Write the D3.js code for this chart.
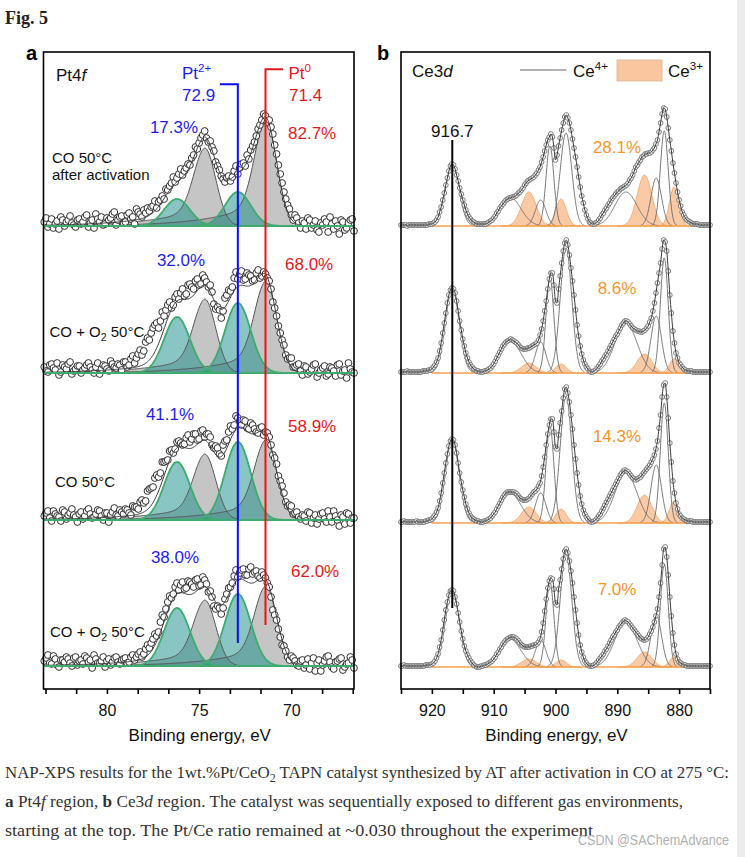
<!DOCTYPE html>
<html><head><meta charset="utf-8">
<script src="https://cdn.jsdelivr.net/npm/d3@7/dist/d3.min.js"></script>
<style>html,body{margin:0;padding:0;background:#fff;}svg{display:block;}</style>
</head><body>
<svg id="fig" width="745" height="857"></svg>
<script>
// ================= DATA =================
// Pt4f panel (a): spectra listed top to bottom. Two interleaved scans per spectrum.
const ptEnergyStart = 83.4;       // eV, first point of scan A
const ptEnergyStartB = 83.3;      // eV, first point of scan B
const ptEnergyStep = 0.2;         // eV between points of one scan
const ptConditions = ["CO 50°C|after activation", "CO + O_2 50°C", "CO 50°C", "CO + O_2 50°C"];
const ptOffsets = [463, 316, 169, 23];           // vertical offsets of stacked spectra (a.u.)
const ptCounts1 = [4,-1,7,2,-3,6,4,10,1,6, 2,9,-1,6,12,4,1,8,8,14, 6,10,4,13,9,17,12,16,18,19, 25,24,30,37,40,49,48,57,55,62, 68,79,83,91,88,85,75,60,50,44, 50,49,60,58,63,71,76,84,97,106, 110,106,92,72,52,34,21,11,11,3, 5,-3,6,1,-4,3,7,-6,2,5, -8,4,-2,6,-5];
const ptCounts2 = [6,1,9,3,-2,8,4,11,2,7, 0,5,10,3,6,-1,8,4,12,6, 9,3,11,8,17,15,23,22,35,40, 48,45,61,63,71,68,79,80,77,88, 86,92,88,98,91,88,69,66,55,75, 83,86,101,99,93,100,97,93,103,97, 99,92,71,57,40,28,14,15,6,9, -2,6,1,8,-4,3,7,-1,5,-3, 9,2,-5,4,0];
const ptCounts3 = [4,9,-1,6,3,10,1,7,5,-2, 8,4,11,2,6,9,0,7,5,12, 4,8,11,7,14,13,18,17,29,32, 42,43,58,59,69,67,78,77,76,85, 81,86,81,90,86,83,72,72,64,79, 88,91,104,99,100,92,97,91,87,93, 88,83,65,56,39,27,14,14,7,3, 5,-1,7,2,-4,6,1,9,-2,4, -6,3,7,-3,2];
const ptCounts4 = [5,11,2,7,-1,6,9,3,8,1, 6,10,4,-2,7,3,9,5,1,8, 4,6,8,4,11,9,14,12,21,23, 32,34,51,57,70,72,83,81,77,85, 82,86,80,89,82,75,60,60,52,67, 78,83,96,93,97,91,99,94,90,94, 88,79,56,46,29,20,9,10,5,0, 6,1,-3,8,3,-5,5,10,-1,4, 7,-4,2,9,-2];
const ptCounts1B = [8,2,-2,5,9,0,6,3,-1,7, 4,11,3,-2,7,9,2,6,12,1, 9,3,11,7,2,14,9,13,15,20, 18,26,27,36,43,44,52,51,58,61, 71,77,88,95,84,79,64,56,47,48, 45,55,52,62,60,67,80,90,101,112, 104,99,81,61,43,27,17,6,8,-2, 3,8,-2,5,-6,1,4,9,-3,0, 6,-4,3,7];
const ptCounts2B = [2,8,5,10,1,6,9,-1,4,7, 3,8,6,0,10,4,7,2,9,5, 8,11,6,14,10,19,18,31,33,45, 50,52,57,68,65,76,74,84,79,89, 84,94,89,95,86,81,64,63,62,78, 82,95,94,102,94,98,92,100,95,101, 95,84,65,47,33,18,15,6,8,2, 7,-1,4,9,0,5,-3,6,2,8, -2,3,10,1];
const ptCounts3B = [7,2,9,4,-1,8,5,11,3,6, 1,9,6,3,10,4,7,-2,8,5, 10,6,10,5,13,11,20,19,31,33, 45,47,58,60,70,71,79,75,82,78, 86,80,89,83,86,75,74,66,75,80, 94,95,102,95,99,91,95,88,92,85, 87,75,62,44,34,18,15,6,8,1, 4,8,-3,5,1,7,-2,3,9,0, 5,-4,6,2];
const ptCounts4B = [8,3,10,1,6,4,7,0,9,5, 2,8,6,11,3,5,-1,7,4,9, 2,7,3,9,6,12,9,17,18,27, 30,44,49,64,68,79,76,84,78,84, 79,87,81,86,74,69,57,58,58,72, 79,90,89,96,91,97,92,95,88,91, 83,69,51,37,21,15,6,8,1,5, -2,7,3,-5,6,1,9,4,-3,5, 8,-1,3,6];
const ptCounts = [ptCounts1, ptCounts2, ptCounts3, ptCounts4];
const ptCountsB = [ptCounts1B, ptCounts2B, ptCounts3B, ptCounts4B];
// fitted components: Pt0 4f7/2, Pt0 4f5/2, Pt2+ 4f7/2, Pt2+ 4f5/2
const ptPeakCenters = [71.4, 74.7, 72.9, 76.2];
const ptPeakKinds = ["Pt0", "Pt0", "Pt2+", "Pt2+"];
const ptPeakHeights = [[106,78,34,27],[92,74,70,56],[80,66,78,58],[80,66,72,58]];
const ptPt2Share = ["17.3%", "32.0%", "41.1%", "38.0%"];
const ptPt0Share = ["82.7%", "68.0%", "58.9%", "62.0%"];
const ptMarkerEnergies = [72.9, 71.4];
const ptTicks = [83.33, 81.67, 80, 78.33, 76.67, 75, 73.33, 71.67, 70, 68.33, 66.67];
const ptTickLabels = [80, 75, 70];

// Ce3d panel (b): two interleaved scans per spectrum
const ceEnergyStart = 925;
const ceEnergyStartB = 924.75;
const ceEnergyStep = 0.5;
const ceOffsets = [463, 316, 166, 22];
const ceCounts1 = [1,1,0,1,1,1,1,1,1,2, 2,4,9,19,33,48,60,61,51,38, 26,16,9,5,3,2,2,2,3,5, 8,13,18,22,26,28,29,30,33,36, 41,45,47,49,53,59,69,81,89,89, 66,80,96,109,108,96,78,59,39,23, 11,4,2,3,6,11,16,21,26,30, 34,37,39,41,46,51,59,64,69,72, 73,74,78,86,103,118,109,86,63,43, 26,14,8,5,3,2,2,1,1,1, 1];
const ceCounts2 = [1,1,2,1,1,1,1,2,2,3, 4,8,15,30,50,70,83,84,72,52, 34,20,11,6,3,2,1,2,3,5, 9,15,21,27,31,33,33,31,28,25, 24,25,26,28,30,38,52,72,94,100, 72,84,110,130,128,105,78,48,27,13, 6,2,1,3,7,12,17,22,28,34, 39,45,50,52,49,45,43,42,41,43, 47,55,70,90,110,133,122,78,42,20, 10,6,3,2,2,1,1,1,1,1, 1];
const ceCounts3 = [1,2,1,1,1,2,1,1,2,3, 4,8,15,30,50,69,82,83,70,50, 33,19,10,5,3,2,1,2,3,5, 9,14,20,26,30,31,31,30,27,24, 23,24,27,31,34,40,56,78,98,104, 76,88,112,134,130,108,78,50,27,13, 6,2,1,3,7,12,18,24,30,36, 42,48,52,52,49,45,43,45,48,52, 56,61,68,82,108,138,126,80,42,20, 9,5,3,2,2,1,1,1,1,1, 1];
const ceCounts4 = [1,2,1,1,1,1,1,1,2,2, 3,6,13,27,47,65,76,76,63,45, 28,16,9,4,1,0,1,2,3,5, 8,13,18,23,27,29,30,29,26,22, 20,20,21,22,23,28,44,68,86,88, 64,78,98,116,114,96,70,44,22,10, 4,1,1,3,7,11,16,21,27,32, 37,42,46,46,43,39,35,31,28,27, 30,36,45,58,84,118,110,70,34,13, 5,3,2,1,1,1,1,1,1,1, 1];
const ceCounts1B = [1,1,1,1,1,1,1,1,1,2, 3,6,14,26,41,55,62,57,45,32, 21,12,7,4,2,2,2,2,4,6, 10,15,20,24,27,28,29,31,34,38, 43,46,48,51,56,64,75,86,92,78, 71,88,103,111,103,87,69,49,30,16, 7,3,2,4,8,13,18,23,28,32, 35,38,40,43,48,55,61,66,70,72, 73,76,82,94,112,117,98,75,53,34, 20,11,6,4,2,2,1,1,1,1];
const ceCounts2B = [1,1,1,1,1,1,1,2,2,3, 6,11,22,40,60,78,85,80,62,43, 27,15,8,4,2,1,1,2,4,7, 12,18,24,29,32,34,32,30,26,24, 24,25,27,29,33,44,62,84,100,88, 70,97,122,133,118,92,63,37,19,9, 4,1,2,5,9,14,19,25,31,37, 42,48,52,51,47,44,42,41,42,45, 51,62,80,100,124,131,102,60,30,15, 8,4,2,2,1,1,1,1,1,1];
const ceCounts3B = [1,1,1,1,1,1,1,1,2,3, 6,11,22,40,60,77,84,78,60,41, 26,14,7,4,2,1,1,2,4,7, 11,17,23,28,31,31,31,29,25,23, 23,25,29,32,37,47,66,89,104,91, 74,100,125,136,121,94,64,38,19,9, 4,1,2,5,9,15,21,27,33,39, 45,50,53,51,47,44,44,46,50,54, 58,64,74,95,126,140,105,61,30,14, 7,4,2,2,1,1,1,1,1,1];
const ceCounts4B = [1,1,1,1,1,1,1,1,2,2, 4,9,20,37,57,72,77,70,54,36, 21,12,6,2,0,0,1,2,4,6, 10,15,20,25,28,30,30,28,24,21, 20,20,21,22,25,35,56,79,89,78, 62,87,108,118,106,84,57,32,15,6, 2,1,2,5,9,13,18,24,30,35, 40,44,47,45,41,37,33,29,27,28, 33,40,51,70,102,120,92,51,22,8, 4,2,1,1,1,1,1,1,1,1];
const ceCounts = [ceCounts1, ceCounts2, ceCounts3, ceCounts4];
const ceCountsB = [ceCounts1B, ceCounts2B, ceCounts3B, ceCounts4B];
const cePeakCenters = [916.7, 907.4, 902.4, 900.9, 898.3, 888.6, 883.7, 882.4, 904.3, 899.1, 885.6, 880.8];
const cePeakFwhm    = [2.6, 4.2, 2.0, 1.5, 2.2, 4.2, 2.0, 1.5, 2.8, 2.0, 2.8, 1.8];
const cePeakStates  = ["Ce4+","Ce4+","Ce4+","Ce4+","Ce4+","Ce4+","Ce4+","Ce4+","Ce3+","Ce3+","Ce3+","Ce3+"];
const cePeakHeights = [
  [60,29,26,80,93,34,48,95, 34,27,51,39],
  [84,33,31,95,125,50,57,115, 10,9,19,14],
  [83,30,30,97,127,50,58,120, 16,14,28,22],
  [77,28,27,85,113,45,52,103, 8,7,15,10]];
const ceCe3Share = ["28.1%", "8.6%", "14.3%", "7.0%"];
const ceMarkerEnergy = 916.7;
const ceTicks = [925,920,915,910,905,900,895,890,885,880,875];
const ceTickLabels = [920,910,900,890,880];

// ================= LAYOUT / STYLE =================
const SANS = "Arial, 'Liberation Sans', Helvetica, sans-serif";
const SERIF = "'Liberation Serif', 'Times New Roman', serif";
const BLUE = "#1e1ee6", RED = "#e41a1c", GREEN = "#3fab6f", ORANGE = "#f4952a";
const frameA = {x0:43.5, x1:354, y0:52, y1:689};
const frameB = {x0:401, x1:710, y0:52, y1:689};
const ptLabelLayout = [
  {blueX:174, blueDy:-93, redX:288, redDy:-87, condX:52, condDy:-63},
  {blueX:181, blueDy:-107, redX:285, redDy:-103, condX:49.5, condDy:-36},
  {blueX:170, blueDy:-100, redX:288, redDy:-88, condX:55, condDy:-33},
  {blueX:175, blueDy:-103, redX:291, redDy:-89, condX:50, condDy:-29}];
const ceLabelDy = [-73, -79, -81, -72];

const svg = d3.select("#fig");
svg.append("rect").attr("x",737).attr("y",0).attr("width",8).attr("height",857).attr("fill","#ececec");

svg.append("text").attr("x",5).attr("y",24).attr("font-family",SERIF)
  .attr("font-weight","bold").attr("font-size",18).attr("fill","#222").text("Fig. 5");

const yI = d3.scaleLinear().domain([0, 637]).range([frameA.y1, frameA.y0]);

function richText(g, x, y, str, size, color, anchor){
  const t = g.append("text").attr("x",x).attr("y",y).attr("font-family",SANS)
    .attr("font-size",size).attr("fill",color).attr("text-anchor",anchor||"start");
  const parts = str.split("_");
  t.append("tspan").text(parts[0]);
  if (parts.length > 1){
    t.append("tspan").attr("font-size", size*0.7).attr("dy", size*0.28).text(parts[1][0]);
    t.append("tspan").attr("dy", -size*0.28).text(parts[1].slice(1));
  }
  return t;
}
function supLabel(g, x, y, main, sup, size, color){
  const t = g.append("text").attr("x",x).attr("y",y).attr("font-family",SANS)
    .attr("font-size",size).attr("fill",color);
  t.append("tspan").text(main);
  t.append("tspan").attr("font-size", size*0.68).attr("dy", -size*0.42).text(sup);
  return t;
}
function scanPoints(a, startA, b, startB, step){
  const pts = a.map((v,i) => ({e: startA - i*step, v}))
    .concat(b.map((v,i) => ({e: startB - i*step, v})));
  return pts.sort((p,q) => q.e - p.e);
}

// ================= PANEL A =================
const xPt = d3.scaleLinear().domain([83.44, 66.6]).range([frameA.x0, frameA.x1]);
const gA = svg.append("g");
const fineA = d3.range(83.44, 66.58, -0.04);
function ptShape(E, c, h, kind){
  const d = E - c;
  if (kind === "Pt0"){
    const g = Math.exp(-d*d/0.72);
    return d > 0 ? h*(0.75*g + 0.25*Math.exp(-d/2.5)) : h*g;
  }
  return h*Math.exp(-d*d/0.98);
}
const greyFill = "rgba(140,140,140,0.5)";
const tealFill = "rgba(20,140,135,0.5)";

ptOffsets.forEach((base, s) => {
  const comps = ptPeakCenters.map((c,k) => ({c, h: ptPeakHeights[s][k], kind: ptPeakKinds[k]}));
  const gs = gA.append("g");
  const sorted = comps.filter(c=>c.kind==="Pt0").concat(comps.filter(c=>c.kind!=="Pt0"));
  sorted.forEach(cp => {
    const area = d3.area().x(e => xPt(e)).y0(yI(base)).y1(e => yI(base + ptShape(e, cp.c, cp.h, cp.kind)));
    gs.append("path").attr("d", area(fineA)).attr("fill", cp.kind==="Pt0" ? greyFill : tealFill);
  });
  sorted.forEach(cp => {
    const line = d3.line().x(e => xPt(e)).y(e => yI(base + ptShape(e, cp.c, cp.h, cp.kind)));
    gs.append("path").attr("d", line(fineA)).attr("fill","none")
      .attr("stroke", cp.kind==="Pt0" ? "#555" : GREEN)
      .attr("stroke-width", cp.kind==="Pt0" ? 1 : 1.8);
  });
  const pts = scanPoints(ptCounts[s], ptEnergyStart, ptCountsB[s], ptEnergyStartB, ptEnergyStep);
  gs.append("g").selectAll("circle").data(pts).join("circle")
    .attr("cx", p => xPt(p.e)).attr("cy", p => yI(base + p.v)).attr("r", 3.4)
    .attr("fill","#fff").attr("stroke","#1a1a1a").attr("stroke-width",0.9);
  const env = d3.line().x(e => xPt(e)).y(e => yI(base + d3.sum(comps, cp => ptShape(e, cp.c, cp.h, cp.kind))));
  gs.append("path").attr("d", env(fineA)).attr("fill","none").attr("stroke","#3a3a3a").attr("stroke-width",1);
  gs.append("line").attr("x1",frameA.x0).attr("x2",frameA.x1).attr("y1",yI(base)).attr("y2",yI(base))
    .attr("stroke",GREEN).attr("stroke-width",2.2);
});

{
  const xb = xPt(ptMarkerEnergies[0]), xr = xPt(ptMarkerEnergies[1]);
  gA.append("path").attr("d", `M${xb-18},84.3H${xb}V643`).attr("fill","none").attr("stroke","#0b0bf5").attr("stroke-width",2);
  gA.append("path").attr("d", `M${xr+17.5},69.3H${xr}V625`).attr("fill","none").attr("stroke","#e3161b").attr("stroke-width",2);
  supLabel(gA, 182, 79, "Pt", "2+", 17, BLUE);
  gA.append("text").attr("x",182).attr("y",101).attr("font-family",SANS).attr("font-size",17).attr("fill",BLUE).text(ptMarkerEnergies[0].toFixed(1));
  supLabel(gA, 288.5, 79, "Pt", "0", 17, RED);
  gA.append("text").attr("x",289).attr("y",101).attr("font-family",SANS).attr("font-size",17).attr("fill",RED).text(ptMarkerEnergies[1].toFixed(1));
}
ptOffsets.forEach((base, s) => {
  const L = ptLabelLayout[s], yb = yI(base);
  gA.append("text").attr("x",L.blueX).attr("y",yb+L.blueDy).attr("font-family",SANS).attr("font-size",17)
    .attr("fill",BLUE).attr("text-anchor","middle").text(ptPt2Share[s]);
  gA.append("text").attr("x",L.redX).attr("y",yb+L.redDy).attr("font-family",SANS).attr("font-size",17)
    .attr("fill",RED).text(ptPt0Share[s]);
  const lines = ptConditions[s].split("|");
  lines.forEach((ln, j) => richText(gA, L.condX, yb + L.condDy + j*17, ln, 15, "#111"));
});
gA.append("text").attr("x",56).attr("y",81).attr("font-family",SANS).attr("font-size",17).attr("fill","#111")
  .call(t => { t.append("tspan").text("Pt4"); t.append("tspan").attr("font-style","italic").text("f"); });

gA.append("rect").attr("x",frameA.x0).attr("y",frameA.y0).attr("width",frameA.x1-frameA.x0).attr("height",frameA.y1-frameA.y0)
  .attr("fill","none").attr("stroke","#000").attr("stroke-width",1.6);
const axA = gA.append("g").attr("transform",`translate(0,${frameA.y1})`)
  .call(d3.axisBottom(xPt).tickValues(ptTicks).tickSize(5).tickSizeOuter(0)
    .tickFormat(d => ptTickLabels.includes(d) ? String(d) : ""));
axA.select(".domain").remove();
axA.selectAll(".tick line").attr("stroke","#000").attr("stroke-width",1.6);
axA.selectAll(".tick text").attr("font-family",SANS).attr("font-size",16).attr("fill","#111").attr("y",16);
gA.append("text").attr("x",(frameA.x0+frameA.x1)/2+1).attr("y",741).attr("text-anchor","middle")
  .attr("font-family",SANS).attr("font-size",17).attr("fill","#111").text("Binding energy, eV");
gA.append("text").attr("x",26).attr("y",60).attr("font-family",SANS).attr("font-weight","bold").attr("font-size",20).text("a");

// ================= PANEL B =================
const xCe = d3.scaleLinear().domain([925, 875]).range([frameB.x0, frameB.x1]);
const gB = svg.append("g");
const fineB = d3.range(925, 874.98, -0.05);
const ceShape = (E, c, w, h) => h*Math.exp(-4*Math.LN2*(E-c)*(E-c)/(w*w));
ceOffsets.forEach((base, s) => {
  const comps = cePeakCenters.map((c,k) => ({c, w: cePeakFwhm[k], h: cePeakHeights[s][k], st: cePeakStates[k]}));
  const gs = gB.append("g");
  comps.filter(c => c.st==="Ce3+").forEach(cp => {
    const area = d3.area().x(e => xCe(e)).y0(yI(base)).y1(e => yI(base + ceShape(e, cp.c, cp.w, cp.h)));
    const dom = fineB.filter(e => Math.abs(e-cp.c) < cp.w*1.6);
    gs.append("path").attr("d", area(dom)).attr("fill","rgba(245,150,80,0.5)")
      .attr("stroke","#f2a25c").attr("stroke-width",0.8);
  });
  comps.filter(c => c.st==="Ce4+").forEach(cp => {
    const line = d3.line().defined(e => ceShape(e, cp.c, cp.w, cp.h) > 0.4)
      .x(e => xCe(e)).y(e => yI(base + ceShape(e, cp.c, cp.w, cp.h)));
    gs.append("path").attr("d", line(fineB)).attr("fill","none").attr("stroke","#6a6a6a").attr("stroke-width",0.9);
  });
  gs.append("line").attr("x1",xCe(920)).attr("x2",xCe(877.8)).attr("y1",yI(base)).attr("y2",yI(base))
    .attr("stroke","#f4a04c").attr("stroke-width",1.6);
  const pts = scanPoints(ceCounts[s], ceEnergyStart, ceCountsB[s], ceEnergyStartB, ceEnergyStep);
  gs.append("g").selectAll("circle").data(pts).join("circle")
    .attr("cx", p => xCe(p.e)).attr("cy", p => yI(base + p.v)).attr("r", 2.4)
    .attr("fill","#fff").attr("stroke","#5e5e5e").attr("stroke-width",0.8);
  const env = d3.line().curve(d3.curveMonotoneX).x(p => xCe(p.e)).y(p => yI(base + p.v));
  gs.append("path").attr("d", env(pts.slice().reverse())).attr("fill","none").attr("stroke","#3a3a3a").attr("stroke-width",1);
  gB.append("text").attr("x",617).attr("y",yI(base)+ceLabelDy[s]).attr("text-anchor","middle")
    .attr("font-family",SANS).attr("font-size",17).attr("fill",ORANGE).text(ceCe3Share[s]);
});
{
  const xm = xCe(ceMarkerEnergy);
  gB.append("line").attr("x1",xm).attr("x2",xm).attr("y1",140).attr("y2",608).attr("stroke","#000").attr("stroke-width",2);
  gB.append("text").attr("x",xm).attr("y",136.5).attr("text-anchor","middle").attr("font-family",SANS)
    .attr("font-size",17).attr("fill","#111").text(ceMarkerEnergy.toFixed(1));
}
gB.append("text").attr("x",412).attr("y",77).attr("font-family",SANS).attr("font-size",17).attr("fill","#111")
  .call(t => { t.append("tspan").text("Ce3"); t.append("tspan").attr("font-style","italic").text("d"); });
gB.append("line").attr("x1",520).attr("x2",566.5).attr("y1",70).attr("y2",70).attr("stroke","#666").attr("stroke-width",1.1);
supLabel(gB, 573, 77, "Ce", "4+", 17, "#111");
gB.append("rect").attr("x",617).attr("y",60).attr("width",45).attr("height",21).attr("fill","#f9c6a0").attr("stroke","#dcb494").attr("stroke-width",0.8);
supLabel(gB, 668, 77, "Ce", "3+", 17, "#111");

gB.append("rect").attr("x",frameB.x0).attr("y",frameB.y0).attr("width",frameB.x1-frameB.x0).attr("height",frameB.y1-frameB.y0)
  .attr("fill","none").attr("stroke","#000").attr("stroke-width",1.6);
const axB = gB.append("g").attr("transform",`translate(0,${frameB.y1})`)
  .call(d3.axisBottom(xCe).tickValues(ceTicks).tickSize(5).tickSizeOuter(0)
    .tickFormat(d => ceTickLabels.includes(d) ? String(d) : ""));
axB.select(".domain").remove();
axB.selectAll(".tick line").attr("stroke","#000").attr("stroke-width",1.6);
axB.selectAll(".tick text").attr("font-family",SANS).attr("font-size",16).attr("fill","#111").attr("y",16);
gB.append("text").attr("x",(frameB.x0+frameB.x1)/2+1).attr("y",741).attr("text-anchor","middle")
  .attr("font-family",SANS).attr("font-size",17).attr("fill","#111").text("Binding energy, eV");
gB.append("text").attr("x",377).attr("y",60).attr("font-family",SANS).attr("font-weight","bold").attr("font-size",20).text("b");

// ================= CAPTION =================
const cap = svg.append("g").attr("font-family",SERIF).attr("font-size",17).attr("fill","#333");
const c1 = cap.append("text").attr("x",5).attr("y",778).attr("textLength",724).attr("lengthAdjust","spacingAndGlyphs");
c1.append("tspan").text("NAP-XPS results for the 1wt.%Pt/CeO");
c1.append("tspan").attr("font-size",12).attr("dy",4).text("2");
c1.append("tspan").attr("dy",-4).text(" TAPN catalyst synthesized by AT after activation in CO at 275 °C:");
const c2 = cap.append("text").attr("x",5).attr("y",807).attr("textLength",678).attr("lengthAdjust","spacingAndGlyphs");
c2.append("tspan").attr("font-weight","bold").text("a");
c2.append("tspan").text(" Pt4");
c2.append("tspan").attr("font-style","italic").text("f");
c2.append("tspan").text(" region, ");
c2.append("tspan").attr("font-weight","bold").text("b");
c2.append("tspan").text(" Ce3");
c2.append("tspan").attr("font-style","italic").text("d");
c2.append("tspan").text(" region. The catalyst was sequentially exposed to different gas environments,");
cap.append("text").attr("x",5).attr("y",836).attr("textLength",588).attr("lengthAdjust","spacingAndGlyphs")
  .text("starting at the top. The Pt/Ce ratio remained at ~0.030 throughout the experiment");
svg.append("text").attr("x",578).attr("y",845).attr("font-family",SANS).attr("font-size",14.5)
  .attr("fill","#b0b0b0").attr("textLength",151).attr("lengthAdjust","spacingAndGlyphs").text("CSDN @SAChemAdvance");
</script>
</body></html>
